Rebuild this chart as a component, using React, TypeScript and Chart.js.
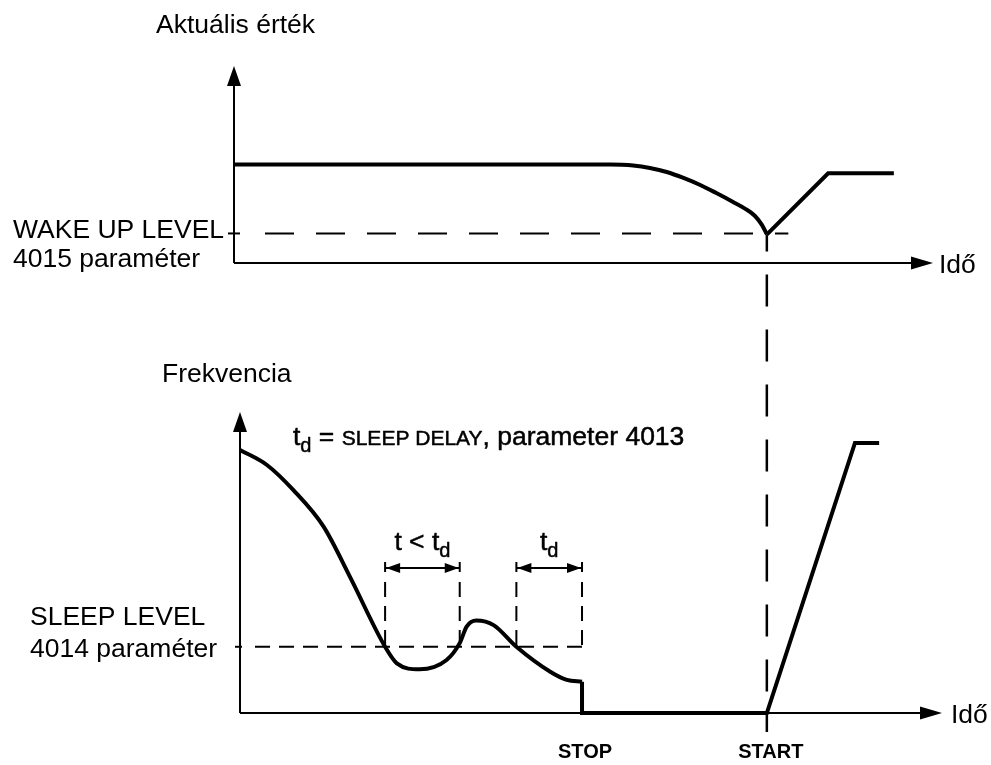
import React, { useEffect, useRef } from "react";
import { Chart, registerables } from "chart.js";

Chart.register(...registerables);

// ---------------- Data ----------------
// Upper panel: actual value ("Aktuális érték") over time
const actualFallTime = [0, 53.8, 55.5, 57.1, 59.5, 61.9, 64.3, 66.7, 69.0, 71.4, 73.1, 74.5, 75.5, 76.25];
const actualFallValue = [5.0, 5.0, 4.99, 4.95, 4.82, 4.62, 4.32, 3.96, 3.55, 3.1, 2.76, 2.4, 1.95, 1.45];
const actualRiseTime = [76.25, 85.0, 94.4];
const actualRiseValue = [1.45, 4.55, 4.55];
const WAKE_UP_LEVEL = 1.5;
const WAKE_LINE_END = 79.3;

// Lower panel: frequency ("Frekvencia") over time
const freqTime = [0, 3.9, 7.7, 12.1, 15.9, 21.0, 22.7, 26.0, 29.9, 31.8, 32.8, 34.2, 36.7, 40.0, 44.9, 47.3, 49.5];
const freqValue = [8.74, 8.24, 7.41, 6.19, 4.53, 2.2, 1.65, 1.45, 1.76, 2.32, 2.87, 3.07, 2.92, 2.2, 1.37, 1.1, 1.04];
const freqStepTime = [49.5, 49.5, 76.25, 89.0, 92.5];
const freqStepValue = [1.04, 0, 0, 8.97, 8.97];
const SLEEP_LEVEL = 2.2;
const STOP_TIME = 49.5;
const START_TIME = 76.25;
const delayIntervals = [
  [21.0, 31.8],
  [40.0, 49.5],
];
const DELAY_ARROW_LEVEL = 4.82;
const DELAY_DASH_TOP = 4.35;

// Axis ranges
const TOP_X_MAX = 100;
const TOP_Y_MAX = 10;
const BOT_X_MAX = 101.6;
const BOT_Y_MAX = 10;

// Texts
const TOP_TITLE = "Aktuális érték";
const BOT_TITLE = "Frekvencia";
const TIME_LABEL = "Idő";
const WAKE_LABEL = ["WAKE UP LEVEL", "4015 paraméter"];
const SLEEP_LABEL = ["SLEEP LEVEL", "4014 paraméter"];
const STOP_LABEL = "STOP";
const START_LABEL = "START";

// ---------------- Helpers ----------------
const FF = '"Liberation Sans", Arial, Helvetica, sans-serif';
const F_MAIN = `26.5px ${FF}`;
const F_SUB = `20px ${FF}`;
const F_SC = `21px ${FF}`;
const F_BOLD = `bold 20px ${FF}`;

type Part = { text: string; font: string; dy?: number };

function richWidth(ctx: CanvasRenderingContext2D, parts: Part[]) {
  let w = 0;
  for (const p of parts) {
    ctx.font = p.font;
    w += ctx.measureText(p.text).width;
  }
  return w;
}

function drawRich(
  ctx: CanvasRenderingContext2D,
  parts: Part[],
  x: number,
  y: number,
  align: "left" | "center" = "left",
  heavy = 0
) {
  let cx = align === "center" ? x - richWidth(ctx, parts) / 2 : x;
  ctx.save();
  ctx.textAlign = "left";
  ctx.textBaseline = "alphabetic";
  ctx.fillStyle = "#000";
  ctx.strokeStyle = "#000";
  ctx.lineWidth = heavy;
  ctx.lineJoin = "round";
  for (const p of parts) {
    ctx.font = p.font;
    ctx.fillText(p.text, cx, y + (p.dy || 0));
    if (heavy > 0) ctx.strokeText(p.text, cx, y + (p.dy || 0));
    cx += ctx.measureText(p.text).width;
  }
  ctx.restore();
}

function arrowHead(ctx: CanvasRenderingContext2D, tx: number, ty: number, dx: number, dy: number, len: number, half: number) {
  const bx = tx - dx * len;
  const by = ty - dy * len;
  const px = -dy;
  const py = dx;
  ctx.beginPath();
  ctx.moveTo(tx, ty);
  ctx.lineTo(bx + px * half, by + py * half);
  ctx.lineTo(bx - px * half, by - py * half);
  ctx.closePath();
  ctx.fill();
}

function drawAxes(ctx: CanvasRenderingContext2D, area: { left: number; right: number; top: number; bottom: number }) {
  const { left, right, top, bottom } = area;
  ctx.save();
  ctx.strokeStyle = "#000";
  ctx.fillStyle = "#000";
  ctx.lineWidth = 2;
  ctx.setLineDash([]);
  ctx.beginPath();
  ctx.moveTo(left, bottom);
  ctx.lineTo(left, top + 18);
  ctx.moveTo(left, bottom);
  ctx.lineTo(right - 20, bottom);
  ctx.stroke();
  arrowHead(ctx, left, top, 0, -1, 20, 7);
  arrowHead(ctx, right, bottom, 1, 0, 22, 6.5);
  ctx.restore();
}

function dashedLine(ctx: CanvasRenderingContext2D, x1: number, y1: number, x2: number, y2: number, dash: number[], width: number, offset = 0) {
  ctx.save();
  ctx.strokeStyle = "#000";
  ctx.lineWidth = width;
  ctx.setLineDash(dash);
  ctx.lineDashOffset = offset;
  ctx.beginPath();
  ctx.moveTo(x1, y1);
  ctx.lineTo(x2, y2);
  ctx.stroke();
  ctx.restore();
}

function pts(xs: number[], ys: number[]) {
  return xs.map((x, i) => ({ x, y: ys[i] }));
}

const lineStyle = {
  borderColor: "#000",
  borderWidth: 4,
  pointRadius: 0,
  fill: false,
  clip: false as const,
};

export default function App() {
  const topRef = useRef<HTMLCanvasElement>(null);
  const botRef = useRef<HTMLCanvasElement>(null);

  useEffect(() => {
    const topPlugin = {
      id: "topDecor",
      afterDraw(chart: any) {
        const { ctx, chartArea, scales } = chart;
        const { left, right, top, bottom } = chartArea;
        drawAxes(ctx, chartArea);
        const wy = scales.y.getPixelForValue(WAKE_UP_LEVEL);
        ctx.save();
        ctx.strokeStyle = "#000";
        ctx.lineWidth = 2;
        ctx.beginPath();
        ctx.moveTo(left - 6, wy);
        ctx.lineTo(left + 6, wy);
        ctx.stroke();
        ctx.restore();
        dashedLine(ctx, left + 31, wy, scales.x.getPixelForValue(WAKE_LINE_END), wy, [29, 22], 2);
        drawRich(ctx, [{ text: TOP_TITLE, font: F_MAIN }], left - 78, top - 33);
        drawRich(ctx, [{ text: TIME_LABEL, font: F_MAIN }], right + 6, bottom + 9.5);
        drawRich(ctx, [{ text: WAKE_LABEL[0], font: F_MAIN }], 13, wy + 5);
        drawRich(ctx, [{ text: WAKE_LABEL[1], font: F_MAIN }], 13, wy + 34);
      },
    };

    const topChart = new Chart(topRef.current as HTMLCanvasElement, {
      type: "line",
      data: {
        datasets: [
          { ...lineStyle, data: pts(actualFallTime, actualFallValue), cubicInterpolationMode: "monotone" },
          { ...lineStyle, data: pts(actualRiseTime, actualRiseValue), tension: 0 },
        ],
      },
      options: {
        responsive: false,
        animation: false,
        devicePixelRatio: 1,
        layout: { padding: { left: 234, top: 66, right: 58, bottom: 502 } },
        plugins: { legend: { display: false }, tooltip: { enabled: false }, title: { display: false } },
        scales: {
          x: { type: "linear", min: 0, max: TOP_X_MAX, display: false },
          y: { type: "linear", min: 0, max: TOP_Y_MAX, display: false },
        },
        events: [],
      },
      plugins: [topPlugin],
    } as any);

    const botPlugin = {
      id: "botDecor",
      afterDraw(chart: any) {
        const { ctx, chartArea, scales } = chart;
        const { left, right, top, bottom } = chartArea;
        const X = (v: number) => scales.x.getPixelForValue(v);
        const Y = (v: number) => scales.y.getPixelForValue(v);
        drawAxes(ctx, chartArea);

        // sleep level
        const sy = Y(SLEEP_LEVEL);
        ctx.save();
        ctx.strokeStyle = "#000";
        ctx.lineWidth = 2;
        ctx.beginPath();
        ctx.moveTo(left - 5, sy);
        ctx.lineTo(left + 2, sy);
        ctx.stroke();
        ctx.restore();
        dashedLine(ctx, left + 15, sy, X(STOP_TIME), sy, [15, 9], 2);

        // delay intervals
        const ay = Y(DELAY_ARROW_LEVEL);
        const labels: Part[][] = [
          [
            { text: "t < t", font: F_MAIN },
            { text: "d", font: F_SUB, dy: 7 },
          ],
          [
            { text: "t", font: F_MAIN },
            { text: "d", font: F_SUB, dy: 7 },
          ],
        ];
        delayIntervals.forEach(([a, b], i) => {
          const x1 = X(a);
          const x2 = X(b);
          dashedLine(ctx, x1, Y(DELAY_DASH_TOP), x1, sy, [15, 9], 2);
          dashedLine(ctx, x2, Y(DELAY_DASH_TOP), x2, sy, [15, 9], 2);
          ctx.save();
          ctx.strokeStyle = "#000";
          ctx.fillStyle = "#000";
          ctx.lineWidth = 2;
          ctx.beginPath();
          ctx.moveTo(x1, ay);
          ctx.lineTo(x2, ay);
          ctx.moveTo(x1, ay - 6);
          ctx.lineTo(x1, ay + 4);
          ctx.moveTo(x2, ay - 6);
          ctx.lineTo(x2, ay + 4);
          ctx.stroke();
          arrowHead(ctx, x1 + 1, ay, -1, 0, 14, 5);
          arrowHead(ctx, x2 - 1, ay, 1, 0, 14, 5);
          ctx.restore();
          drawRich(ctx, labels[i], (x1 + x2) / 2, ay - 18, "center", 0.5);
        });

        // connector from the wake-up point in the upper panel
        const cx = X(START_TIME);
        const cyTop = topChart.scales.y.getPixelForValue(actualRiseValue[0]);
        dashedLine(ctx, cx, cyTop, cx, bottom + 19, [32, 23], 2.5, 15);

        // texts
        drawRich(
          ctx,
          [
            { text: "t", font: F_MAIN },
            { text: "d", font: F_SUB, dy: 7 },
            { text: " = ", font: F_MAIN },
            { text: "SLEEP DELAY", font: F_SC },
            { text: ", parameter 4013", font: F_MAIN },
          ],
          left + 53,
          top + 33,
          "left",
          0.5
        );
        drawRich(ctx, [{ text: BOT_TITLE, font: F_MAIN }], left - 78, top - 30);
        drawRich(ctx, [{ text: TIME_LABEL, font: F_MAIN }], right + 9, bottom + 9.5);
        drawRich(ctx, [{ text: SLEEP_LABEL[0], font: F_MAIN }], 30, sy - 22);
        drawRich(ctx, [{ text: SLEEP_LABEL[1], font: F_MAIN }], 30, sy + 10);
        drawRich(ctx, [{ text: STOP_LABEL, font: F_BOLD }], X(STOP_TIME) + 3, bottom + 45, "center");
        drawRich(ctx, [{ text: START_LABEL, font: F_BOLD }], X(START_TIME) + 4, bottom + 45, "center");
      },
    };

    const botChart = new Chart(botRef.current as HTMLCanvasElement, {
      type: "line",
      data: {
        datasets: [
          { ...lineStyle, data: pts(freqTime, freqValue), cubicInterpolationMode: "monotone" },
          { ...lineStyle, data: pts(freqStepTime, freqStepValue), tension: 0 },
        ],
      },
      options: {
        responsive: false,
        animation: false,
        devicePixelRatio: 1,
        layout: { padding: { left: 240, top: 412, right: 49, bottom: 52 } },
        plugins: { legend: { display: false }, tooltip: { enabled: false }, title: { display: false } },
        scales: {
          x: { type: "linear", min: 0, max: BOT_X_MAX, display: false },
          y: { type: "linear", min: 0, max: BOT_Y_MAX, display: false },
        },
        events: [],
      },
      plugins: [botPlugin],
    } as any);

    return () => {
      botChart.destroy();
      topChart.destroy();
    };
  }, []);

  return (
    <div style={{ position: "fixed", left: 0, top: 0, width: 991, height: 765, background: "#fff" }}>
      <canvas ref={topRef} width={991} height={765} style={{ position: "absolute", left: 0, top: 0 }} />
      <canvas ref={botRef} width={991} height={765} style={{ position: "absolute", left: 0, top: 0 }} />
    </div>
  );
}
